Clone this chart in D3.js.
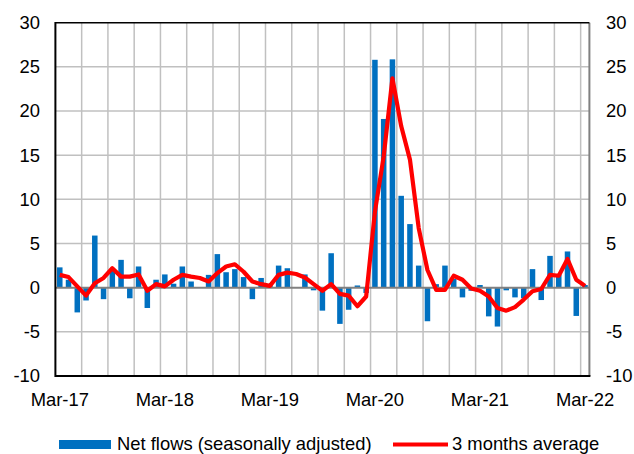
<!DOCTYPE html>
<html>
<head>
<meta charset="utf-8">
<script src="https://cdn.jsdelivr.net/npm/d3@7"></script>
<style>
  body { margin: 0; background: #fff; }
  text { font-family: "Liberation Sans", Arial, sans-serif; fill: #000; }
</style>
</head>
<body>
<div class="canvas"></div>
<script>
// monthly categories, Mar-17 .. Mar-22
const months = d3.timeMonths(new Date(2017, 2, 1), new Date(2022, 3, 1));
const categories = months.map(d3.timeFormat('%b-%y'));

// net flows (seasonally adjusted), one per month
const netFlows = [2.3, 0.9, -2.8, -1.45, 5.9, -1.3, 1.9, 3.15, -1.2, 2.4,
    -2.3, 0.9, 1.5, 0.45, 2.4, 0.7, 0.05, 1.45, 3.8, 1.75,
    2.1, 1.2, -1.3, 1.1, 0.3, 2.5, 2.2, 0.0, 1.5, -0.3,
    -2.6, 3.9, -4.1, -2.5, 0.25, -0.6, 25.8, 19.1, 25.85, 10.4,
    7.2, 2.5, -3.8, 0.4, 2.5, 1.0, -1.1, -0.35, 0.3, -3.25,
    -4.4, -0.3, -1.1, -1.2, 2.1, -1.4, 3.6, 1.5, 4.1, -3.2, 0.3];

// 3 months average
const avg3m = [1.45, 1.2, 0.15, -0.9, 0.5, 1.1, 2.2, 1.25, 1.25, 1.5,
    -0.35, 0.4, 0.15, 0.9, 1.45, 1.25, 1.1, 0.7, 1.65, 2.4,
    2.65, 1.8, 0.7, 0.4, 0.2, 1.45, 1.7, 1.55, 1.15, 0.4,
    -0.35, 0.4, -0.7, -0.9, -2.1, -1.0, 8.6, 14.85, 23.7, 18.3,
    14.5, 6.75, 2.0, -0.25, -0.25, 1.35, 0.9, -0.1, -0.35, -1.0,
    -2.3, -2.6, -2.2, -1.35, -0.4, -0.15, 1.45, 1.35, 3.25, 0.9, 0.2];

const xTickLabels = ['Mar-17', 'Mar-18', 'Mar-19', 'Mar-20', 'Mar-21', 'Mar-22'];
const yTicks = [-10, -5, 0, 5, 10, 15, 20, 25, 30];

const width = 634, height = 454;
const plot = {left: 55.4, right: 589.4, top: 22.7, bottom: 376};
const fontSize = '18.4px';

const svg = d3.select('.canvas')
    .append('svg')
    .attr('width', width)
    .attr('height', height);

// scales
const x = d3.scaleBand()
    .domain(categories)
    .range([plot.left, plot.right])
    .paddingInner(0.37)
    .paddingOuter(0.185);

const y = d3.scaleLinear()
    .domain([-10, 30])
    .range([plot.bottom, plot.top]);

const cx = d => x(d) + x.bandwidth() / 2;

// horizontal gridlines
svg.append('g')
    .selectAll('line')
    .data(yTicks.filter(t => t !== -10 && t !== 30 && t !== 0))
    .enter().append('line')
    .attr('x1', plot.left).attr('x2', plot.right)
    .attr('y1', d => y(d)).attr('y2', d => y(d))
    .attr('stroke', '#c0c0c0')
    .attr('stroke-width', 1.5);

// vertical gridlines every quarter, on category boundaries
const step = x.step();
const vIdx = d3.range(3, categories.length, 3);
svg.append('g')
    .selectAll('line')
    .data(vIdx)
    .enter().append('line')
    .attr('x1', i => plot.left + i * step)
    .attr('x2', i => plot.left + i * step)
    .attr('y1', plot.top).attr('y2', plot.bottom)
    .attr('stroke', '#c0c0c0')
    .attr('stroke-width', 1.5);

// bars
svg.append('g')
    .selectAll('rect')
    .data(netFlows)
    .enter().append('rect')
    .attr('x', (d, i) => x(categories[i]))
    .attr('width', x.bandwidth())
    .attr('y', d => y(Math.max(0, d)))
    .attr('height', d => Math.abs(y(d) - y(0)))
    .attr('fill', '#0070c0');

// zero line
svg.append('line')
    .attr('x1', plot.left).attr('x2', plot.right)
    .attr('y1', y(0)).attr('y2', y(0))
    .attr('stroke', '#808080')
    .attr('stroke-width', 2);

// frame
svg.append('line')
    .attr('x1', plot.right).attr('x2', plot.right)
    .attr('y1', plot.top).attr('y2', plot.bottom)
    .attr('stroke', '#808080').attr('stroke-width', 2);
svg.append('line')
    .attr('x1', plot.left).attr('x2', plot.right)
    .attr('y1', plot.top).attr('y2', plot.top)
    .attr('stroke', '#000').attr('stroke-width', 1.5);
svg.append('line')
    .attr('x1', plot.left).attr('x2', plot.right + 1)
    .attr('y1', plot.bottom).attr('y2', plot.bottom)
    .attr('stroke', '#000').attr('stroke-width', 2);
svg.append('line')
    .attr('x1', plot.left).attr('x2', plot.left)
    .attr('y1', plot.top - 0.75).attr('y2', plot.bottom + 1)
    .attr('stroke', '#000').attr('stroke-width', 2);

// 3 months average line
const line = d3.line()
    .x((d, i) => cx(categories[i]))
    .y(d => y(d));

svg.append('path')
    .datum(avg3m)
    .attr('d', line)
    .attr('fill', 'none')
    .attr('stroke', '#ff0000')
    .attr('stroke-width', 4.2)
    .attr('stroke-linejoin', 'round');

// y axis labels, both sides
const yLabels = svg.append('g').style('font-size', fontSize);
yLabels.selectAll('text.left')
    .data(yTicks)
    .enter().append('text')
    .attr('class', 'left')
    .attr('x', 40)
    .attr('y', d => y(d))
    .attr('dy', '0.35em')
    .attr('text-anchor', 'end')
    .text(d => d);
yLabels.selectAll('text.right')
    .data(yTicks)
    .enter().append('text')
    .attr('class', 'right')
    .attr('x', 606)
    .attr('y', d => y(d))
    .attr('dy', '0.35em')
    .attr('text-anchor', 'start')
    .text(d => d);

// x axis labels
svg.append('g')
    .style('font-size', fontSize)
    .selectAll('text')
    .data(xTickLabels)
    .enter().append('text')
    .attr('x', d => cx(d))
    .attr('y', 405.5)
    .attr('text-anchor', 'middle')
    .text(d => d);

// legend
const legend = svg.append('g').style('font-size', fontSize);
legend.append('rect')
    .attr('x', 59).attr('y', 440)
    .attr('width', 52).attr('height', 9)
    .attr('fill', '#0070c0');
legend.append('text')
    .attr('x', 117).attr('y', 450)
    .text('Net flows (seasonally adjusted)');
legend.append('line')
    .attr('x1', 393).attr('x2', 448)
    .attr('y1', 444.5).attr('y2', 444.5)
    .attr('stroke', '#ff0000').attr('stroke-width', 4);
legend.append('text')
    .attr('x', 452).attr('y', 450)
    .text('3 months average');
</script>
</body>
</html>
